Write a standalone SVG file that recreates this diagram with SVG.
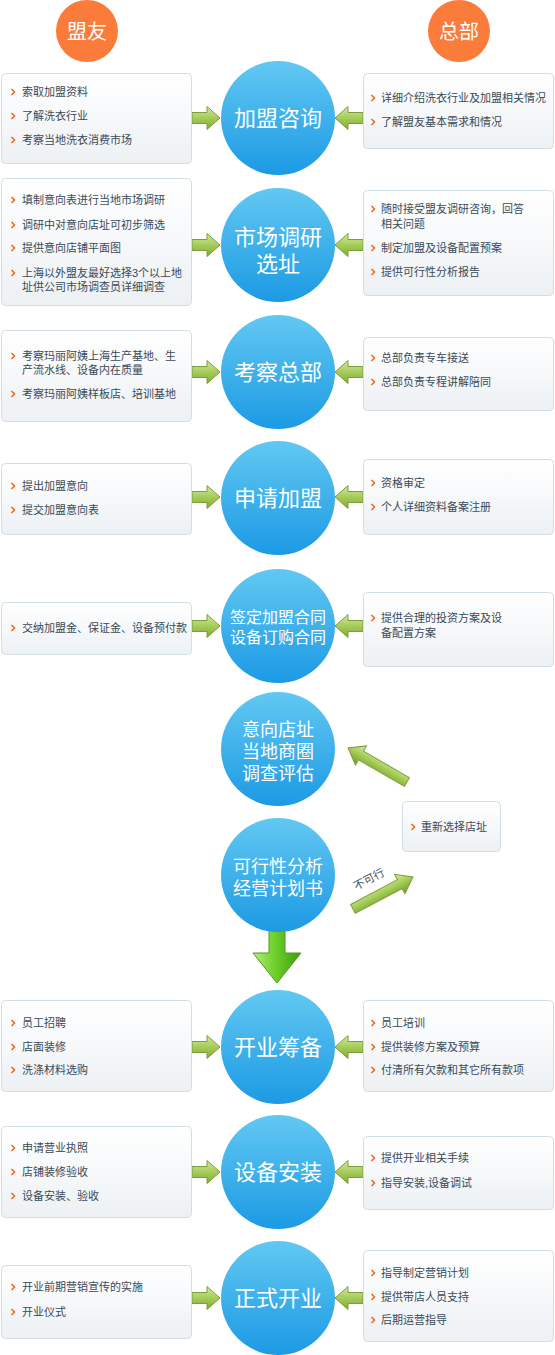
<svg xmlns="http://www.w3.org/2000/svg" xmlns:xlink="http://www.w3.org/1999/xlink" width="555" height="1355" viewBox="0 0 555 1355">
<style>
.box{fill:url(#boxg);stroke:#d2dee5;stroke-width:1}
.t{font-family:"Liberation Sans","Noto Sans CJK SC",sans-serif;font-size:11px;fill:#3a4957}
.ct{font-family:"Liberation Sans","Noto Sans CJK SC",sans-serif;fill:#ffffff;text-anchor:middle}
.c22{font-size:22px}
.c18{font-size:18px}
.c16{font-size:16px}
.circ{fill:url(#cg)}
.hd{fill:#fb7b3b}
.arr{fill:url(#ag);stroke:#7c9d3b;stroke-width:1}
.darr{fill:url(#ag2);stroke:#7c9d3b;stroke-width:1}
</style>
<defs>
<linearGradient id="boxg" x1="0" y1="0" x2="0" y2="1">
<stop offset="0" stop-color="#ffffff"/>
<stop offset="1" stop-color="#edf1f4"/>
</linearGradient>
<linearGradient id="cg" x1="0" y1="0" x2="0" y2="1">
<stop offset="0" stop-color="#62c8f2"/>
<stop offset="1" stop-color="#1c9ae4"/>
</linearGradient>
<linearGradient id="ag" x1="0" y1="0" x2="0" y2="1">
<stop offset="0" stop-color="#d2e8a0"/>
<stop offset="0.5" stop-color="#a6cc5a"/>
<stop offset="1" stop-color="#7eab34"/>
</linearGradient>
<linearGradient id="ag2" x1="0" y1="0" x2="0" y2="1">
<stop offset="0" stop-color="#d6eca6"/>
<stop offset="0.5" stop-color="#a2cb55"/>
<stop offset="1" stop-color="#6f9a2c"/>
</linearGradient>
<linearGradient id="dg" x1="0" y1="0" x2="1" y2="0">
<stop offset="0" stop-color="#b4f07a"/>
<stop offset="0.45" stop-color="#6fd02a"/>
<stop offset="1" stop-color="#3a9e0e"/>
</linearGradient>
<path id="bl" d="M-1.5,-3 L1.5,0 L-1.5,3" fill="none" stroke="#f0661a" stroke-width="1.5"/>
<path id="ar" d="M-28,-5.5 H-13 V-11.5 L0,0 L-13,11.5 V5.5 H-28 Z"/>
<path id="dar" d="M-68,-5 H-15 V-11 L0,0 L-15,11 V5 H-68 Z"/>
</defs>
<rect width="555" height="1355" fill="#ffffff"/>

<g id="head-mengyou"><circle class="hd" cx="87" cy="31" r="31"/><text class="ct" x="87" y="39" font-size="20">盟友</text></g>
<g id="head-zongbu"><circle class="hd" cx="459" cy="31" r="31"/><text class="ct" x="459" y="39" font-size="20">总部</text></g>

<g id="connectors">
<use href="#ar" class="arr" transform="translate(220,118)"/>
<use href="#ar" class="arr" transform="translate(335,118) scale(-1,1)"/>
<use href="#ar" class="arr" transform="translate(220,245)"/>
<use href="#ar" class="arr" transform="translate(335,245) scale(-1,1)"/>
<use href="#ar" class="arr" transform="translate(220,372)"/>
<use href="#ar" class="arr" transform="translate(335,372) scale(-1,1)"/>
<use href="#ar" class="arr" transform="translate(220,497)"/>
<use href="#ar" class="arr" transform="translate(335,497) scale(-1,1)"/>
<use href="#ar" class="arr" transform="translate(220,626)"/>
<use href="#ar" class="arr" transform="translate(335,626) scale(-1,1)"/>
<use href="#ar" class="arr" transform="translate(220,1047)"/>
<use href="#ar" class="arr" transform="translate(335,1047) scale(-1,1)"/>
<use href="#ar" class="arr" transform="translate(220,1172)"/>
<use href="#ar" class="arr" transform="translate(335,1172) scale(-1,1)"/>
<use href="#ar" class="arr" transform="translate(220,1298)"/>
<use href="#ar" class="arr" transform="translate(335,1298) scale(-1,1)"/>
<use href="#dar" class="darr" transform="translate(348,748) rotate(210) scale(1,-1)"/>
<use href="#dar" class="darr" transform="translate(413,877) rotate(-28)"/>
<text class="t" x="369" y="883" text-anchor="middle" font-size="12" transform="rotate(-28 369 879)">不可行</text>
<path d="M269,923 H285 V953 H301 L277,983 L253,953 H269 Z" fill="url(#dg)" stroke="#4d9a1c" stroke-width="1"/>
</g>

<g id="n1">
<circle class="circ" cx="278" cy="118" r="57"/><text class="ct c22" x="278" y="126">加盟咨询</text>
</g>
<g id="n1-left">
<rect class="box" x="1.5" y="73.5" width="190" height="90" rx="4"/>
<use href="#bl" x="13" y="92"/><text class="t" x="22" y="96">索取加盟资料</text>
<use href="#bl" x="13" y="116"/><text class="t" x="22" y="120">了解洗衣行业</text>
<use href="#bl" x="13" y="140"/><text class="t" x="22" y="144">考察当地洗衣消费市场</text>
</g>
<g id="n1-right">
<rect class="box" x="363.5" y="73.5" width="190" height="75" rx="4"/>
<use href="#bl" x="373" y="98"/><text class="t" x="381" y="102">详细介绍洗衣行业及加盟相关情况</text>
<use href="#bl" x="373" y="122"/><text class="t" x="381" y="126">了解盟友基本需求和情况</text>
</g>

<g id="n2">
<circle class="circ" cx="278" cy="245" r="57"/><text class="ct c22" x="278" y="245"><tspan x="278">市场调研</tspan><tspan x="278" dy="27">选址</tspan></text>
</g>
<g id="n2-left">
<rect class="box" x="1.5" y="178.5" width="190" height="127" rx="4"/>
<use href="#bl" x="13" y="200"/><text class="t" x="22" y="204">填制意向表进行当地市场调研</text>
<use href="#bl" x="13" y="225"/><text class="t" x="22" y="229">调研中对意向店址可初步筛选</text>
<use href="#bl" x="13" y="248"/><text class="t" x="22" y="252">提供意向店铺平面图</text>
<use href="#bl" x="13" y="273"/><text class="t" x="22" y="277"><tspan x="22">上海以外盟友最好选择3个以上地</tspan><tspan x="22" dy="14">址供公司市场调查员详细调查</tspan></text>
</g>
<g id="n2-right">
<rect class="box" x="363.5" y="190.5" width="190" height="105" rx="4"/>
<use href="#bl" x="373" y="209"/><text class="t" x="381" y="213"><tspan x="381">随时接受盟友调研咨询，回答</tspan><tspan x="381" dy="15">相关问题</tspan></text>
<use href="#bl" x="373" y="248"/><text class="t" x="381" y="252">制定加盟及设备配置预案</text>
<use href="#bl" x="373" y="272"/><text class="t" x="381" y="276">提供可行性分析报告</text>
</g>

<g id="n3">
<circle class="circ" cx="278" cy="372" r="57"/><text class="ct c22" x="278" y="380">考察总部</text>
</g>
<g id="n3-left">
<rect class="box" x="1.5" y="330.5" width="190" height="91" rx="4"/>
<use href="#bl" x="13" y="356"/><text class="t" x="22" y="360"><tspan x="22">考察玛丽阿姨上海生产基地、生</tspan><tspan x="22" dy="14">产流水线、设备内在质量</tspan></text>
<use href="#bl" x="13" y="394"/><text class="t" x="22" y="398">考察玛丽阿姨样板店、培训基地</text>
</g>
<g id="n3-right">
<rect class="box" x="363.5" y="337.5" width="190" height="73" rx="4"/>
<use href="#bl" x="373" y="358"/><text class="t" x="381" y="362">总部负责专车接送</text>
<use href="#bl" x="373" y="382"/><text class="t" x="381" y="386">总部负责专程讲解陪同</text>
</g>

<g id="n4">
<circle class="circ" cx="278" cy="498" r="57"/><text class="ct c22" x="278" y="506">申请加盟</text>
</g>
<g id="n4-left">
<rect class="box" x="1.5" y="463.5" width="190" height="71" rx="4"/>
<use href="#bl" x="13" y="486"/><text class="t" x="22" y="490">提出加盟意向</text>
<use href="#bl" x="13" y="510"/><text class="t" x="22" y="514">提交加盟意向表</text>
</g>
<g id="n4-right">
<rect class="box" x="363.5" y="459.5" width="190" height="75" rx="4"/>
<use href="#bl" x="373" y="483"/><text class="t" x="381" y="487">资格审定</text>
<use href="#bl" x="373" y="507"/><text class="t" x="381" y="511">个人详细资料备案注册</text>
</g>

<g id="n5">
<circle class="circ" cx="278" cy="626" r="57"/><text class="ct c16" x="278" y="623"><tspan x="278">签定加盟合同</tspan><tspan x="278" dy="20">设备订购合同</tspan></text>
</g>
<g id="n5-left">
<rect class="box" x="1.5" y="602.5" width="190" height="52" rx="4"/>
<use href="#bl" x="13" y="628"/><text class="t" x="22" y="632">交纳加盟金、保证金、设备预付款</text>
</g>
<g id="n5-right">
<rect class="box" x="363.5" y="592.5" width="190" height="74" rx="4"/>
<use href="#bl" x="373" y="618"/><text class="t" x="381" y="622"><tspan x="381">提供合理的投资方案及设</tspan><tspan x="381" dy="15">备配置方案</tspan></text>
</g>

<g id="n6">
<circle class="circ" cx="278" cy="749" r="57"/>
<text class="ct c18" x="278" y="736"><tspan x="278">意向店址</tspan><tspan x="278" dy="22">当地商圈</tspan><tspan x="278" dy="22">调查评估</tspan></text>
</g>
<g id="n-reselect">
<rect class="box" x="402.5" y="801.5" width="98" height="50" rx="4"/>
<use href="#bl" x="413" y="827"/><text class="t" x="421" y="831">重新选择店址</text>
</g>
<g id="n7">
<circle class="circ" cx="278" cy="875" r="57"/>
<text class="ct c18" x="278" y="873"><tspan x="278">可行性分析</tspan><tspan x="278" dy="22">经营计划书</tspan></text>
</g>

<g id="n8">
<circle class="circ" cx="278" cy="1047" r="57"/><text class="ct c22" x="278" y="1055">开业筹备</text>
</g>
<g id="n8-left">
<rect class="box" x="1.5" y="1000.5" width="190" height="91" rx="4"/>
<use href="#bl" x="13" y="1023"/><text class="t" x="22" y="1027">员工招聘</text>
<use href="#bl" x="13" y="1047"/><text class="t" x="22" y="1051">店面装修</text>
<use href="#bl" x="13" y="1070"/><text class="t" x="22" y="1074">洗涤材料选购</text>
</g>
<g id="n8-right">
<rect class="box" x="363.5" y="1000.5" width="190" height="91" rx="4"/>
<use href="#bl" x="373" y="1023"/><text class="t" x="381" y="1027">员工培训</text>
<use href="#bl" x="373" y="1047"/><text class="t" x="381" y="1051">提供装修方案及预算</text>
<use href="#bl" x="373" y="1070"/><text class="t" x="381" y="1074">付清所有欠款和其它所有款项</text>
</g>

<g id="n9">
<circle class="circ" cx="278" cy="1172" r="57"/><text class="ct c22" x="278" y="1180">设备安装</text>
</g>
<g id="n9-left">
<rect class="box" x="1.5" y="1126.5" width="190" height="91" rx="4"/>
<use href="#bl" x="13" y="1148"/><text class="t" x="22" y="1152">申请营业执照</text>
<use href="#bl" x="13" y="1172"/><text class="t" x="22" y="1176">店铺装修验收</text>
<use href="#bl" x="13" y="1196"/><text class="t" x="22" y="1200">设备安装、验收</text>
</g>
<g id="n9-right">
<rect class="box" x="363.5" y="1136.5" width="190" height="73" rx="4"/>
<use href="#bl" x="373" y="1158"/><text class="t" x="381" y="1162">提供开业相关手续</text>
<use href="#bl" x="373" y="1183"/><text class="t" x="381" y="1187">指导安装,设备调试</text>
</g>

<g id="n10">
<circle class="circ" cx="278" cy="1298" r="57"/><text class="ct c22" x="278" y="1306">正式开业</text>
</g>
<g id="n10-left">
<rect class="box" x="1.5" y="1265.5" width="190" height="73" rx="4"/>
<use href="#bl" x="13" y="1287"/><text class="t" x="22" y="1291">开业前期营销宣传的实施</text>
<use href="#bl" x="13" y="1312"/><text class="t" x="22" y="1316">开业仪式</text>
</g>
<g id="n10-right">
<rect class="box" x="363.5" y="1250.5" width="190" height="91" rx="4"/>
<use href="#bl" x="373" y="1273"/><text class="t" x="381" y="1277">指导制定营销计划</text>
<use href="#bl" x="373" y="1297"/><text class="t" x="381" y="1301">提供带店人员支持</text>
<use href="#bl" x="373" y="1320"/><text class="t" x="381" y="1324">后期运营指导</text>
</g>
</svg>
